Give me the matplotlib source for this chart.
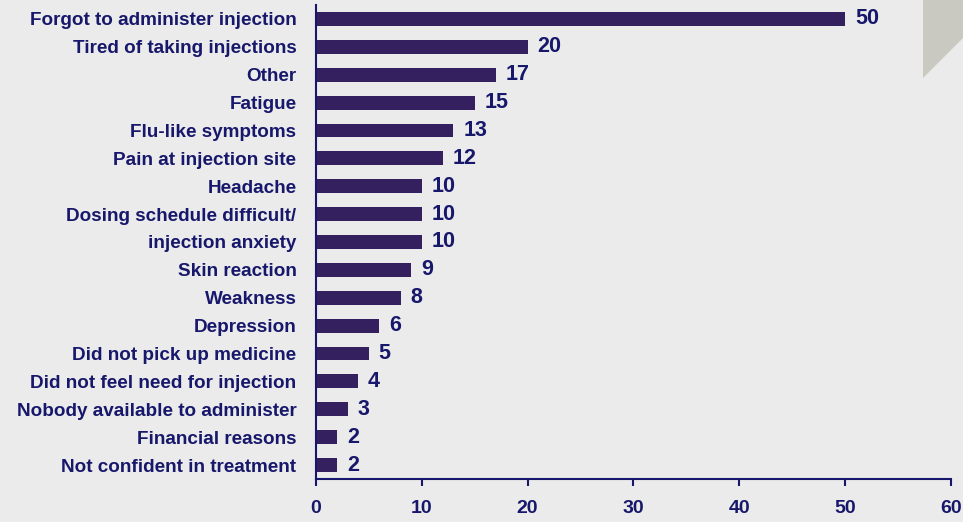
import matplotlib
matplotlib.use("Agg")
import matplotlib.pyplot as plt
from matplotlib.patches import Polygon

reasons = ["Forgot to administer injection", "Tired of taking injections", "Other",
           "Fatigue", "Flu-like symptoms", "Pain at injection site", "Headache",
           "Dosing schedule difficult/", "injection anxiety", "Skin reaction",
           "Weakness", "Depression", "Did not pick up medicine",
           "Did not feel need for injection", "Nobody available to administer",
           "Financial reasons", "Not confident in treatment"]
counts = [50, 20, 17, 15, 13, 12, 10, 10, 10, 9, 8, 6, 5, 4, 3, 2, 2]
xticks = [0, 10, 20, 30, 40, 50, 60]

navy = "#17176b"
bar_col = "#35205f"
bg = "#ebebeb"

plt.rcParams['font.family'] = ['Liberation Sans', 'DejaVu Sans']

fig = plt.figure(figsize=(9.63, 5.22), dpi=100, facecolor=bg)
ax = fig.add_axes([0.328, 0.0824, 0.6595, 0.908])
ax.set_facecolor(bg)

ypos = list(range(len(reasons)))
ax.barh(ypos, counts, height=0.5, color=bar_col)
for y, v in zip(ypos, counts):
    ax.annotate(str(v), (v, y), xytext=(7, 0), textcoords="offset points",
                va="center", ha="left", fontsize=15.5, fontweight="bold", color=navy)

ax.set_ylim(len(reasons) - 0.5, -0.5)
ax.set_xlim(0, 60)
ax.set_xticks(xticks)
ax.set_xticklabels([str(t) for t in xticks], fontsize=14, fontweight="bold", color=navy)
ax.set_yticks(ypos)
ax.set_yticklabels(reasons, fontsize=13.6, fontweight="bold", color=navy)
ax.tick_params(axis="y", length=0, pad=14)
ax.tick_params(axis="x", length=5, width=1.5, color=navy, pad=10, direction="out")
for s in ["top", "right"]:
    ax.spines[s].set_visible(False)
for s in ["left", "bottom"]:
    ax.spines[s].set_color(navy)
    ax.spines[s].set_linewidth(1.5)

# page corner shading in top right
corner = Polygon([(923 / 963, 1), (1, 1), (1, 1 - 38 / 522), (923 / 963, 1 - 78 / 522)],
                 closed=True, transform=fig.transFigure, facecolor="#c9c9c1",
                 edgecolor="none")
fig.patches.append(corner)

fig.savefig("out.png", dpi=100, facecolor=bg)
